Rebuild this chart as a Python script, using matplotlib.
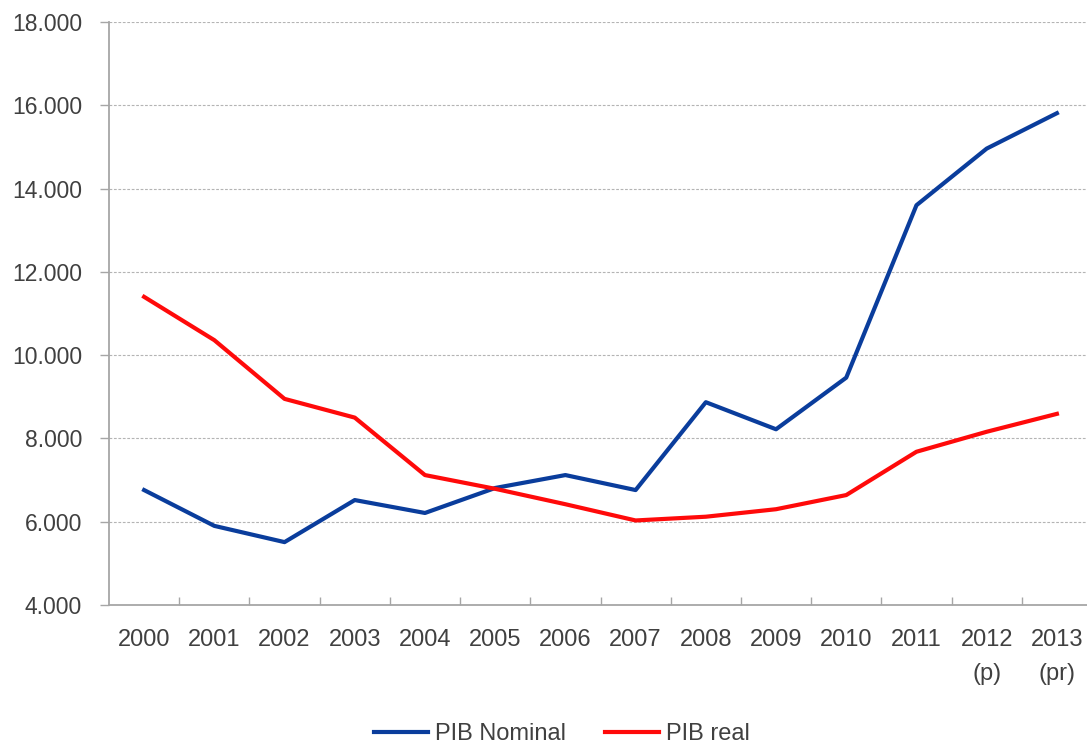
import matplotlib
matplotlib.use("Agg")
import matplotlib.pyplot as plt
from matplotlib.ticker import FuncFormatter, FixedLocator

plt.rcParams['font.family'] = ['Liberation Sans', 'DejaVu Sans']

years = ["2000", "2001", "2002", "2003", "2004", "2005", "2006", "2007",
         "2008", "2009", "2010", "2011", "2012\n(p)", "2013\n(pr)"]
pib_nominal = [6760, 5900, 5510, 6520, 6210, 6810, 7120, 6760,
               8870, 8220, 9460, 13600, 14960, 15810]
pib_real = [11400, 10360, 8950, 8500, 7120, 6790, 6420, 6030,
            6120, 6300, 6640, 7680, 8160, 8590]
y_ticks = [4000, 6000, 8000, 10000, 12000, 14000, 16000, 18000]

text_color = '#404040'
axis_color = '#a6a6a6'

fig = plt.figure(figsize=(10.87, 7.46), dpi=100)
ax = fig.add_axes([109/1087, 141/746, 983/1087, 583/746])

x = list(range(len(years)))
ax.plot(x, pib_nominal, color='#0a3d9c', lw=3.0, label='PIB Nominal', solid_joinstyle='round')
ax.plot(x, pib_real, color='#ff0a0a', lw=3.0, label='PIB real', solid_joinstyle='round')

ax.set_xlim(-0.5, len(years) - 0.5)
ax.set_ylim(4000, 18000)
ax.set_yticks(y_ticks)
ax.yaxis.set_major_formatter(FuncFormatter(lambda v, p: f"{int(v):,}".replace(",", ".")))
ax.set_xticks(x)
ax.set_xticklabels(years)
ax.xaxis.set_minor_locator(FixedLocator([i + 0.5 for i in range(len(years) - 1)]))

ax.grid(axis='y', color='#b4b4b4', linestyle=(0, (2.5, 1.5)), linewidth=0.8)
ax.set_axisbelow(True)

for s in ['top', 'right']:
    ax.spines[s].set_visible(False)
for s in ['left', 'bottom']:
    ax.spines[s].set_color(axis_color)
    ax.spines[s].set_linewidth(1.3)

ax.tick_params(axis='y', direction='out', length=6.5, width=1.0, color=axis_color,
               labelsize=16.5, labelcolor=text_color, pad=13)
ax.tick_params(axis='x', which='major', length=0, labelsize=17, labelcolor=text_color, pad=17)
ax.tick_params(axis='x', which='minor', direction='in', length=5.5, width=1.0, color=axis_color)
for lbl in ax.get_xticklabels():
    lbl.set_linespacing(1.7)
    lbl.set_verticalalignment('top')

fig.legend(loc='center', bbox_to_anchor=(562/1087, 12/746), ncol=2, frameon=False,
           fontsize=17, handlelength=2.3, handletextpad=0.3, columnspacing=1.65,
           labelcolor=text_color)

fig.savefig('out.png', dpi=100)
